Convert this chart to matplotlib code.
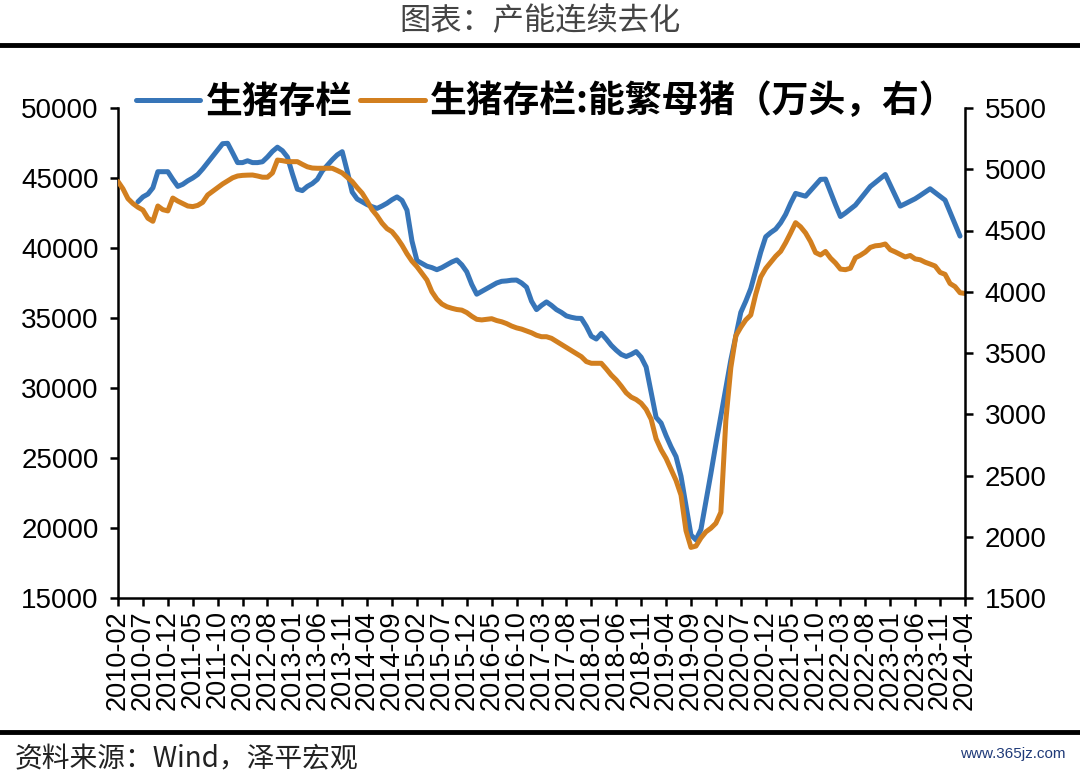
import numpy as np
import pandas as pd
import matplotlib
matplotlib.use('Agg')
import matplotlib.pyplot as plt
from matplotlib.lines import Line2D

nan = np.nan

# ---------------- data ----------------
months = pd.period_range('2010-02', '2024-04', freq='M').strftime('%Y-%m').tolist()

# 生猪存栏 (万头), left axis
hog_inventory = [
    nan, nan, nan, nan, 43300, 43650, 43850, 44300, 45450, 45450,   # 0-9
    45450, 44900, 44400, 44550, 44800, 45000, 45250, 45650, 46100, 46550,  # 10-19
    47000, 47450, 47480, 46800, 46100, 46100, 46230, 46100, 46100, 46160,  # 20-29
    46500, 46900, 47200, 46950, 46500, 45300, 44200, 44100, 44400, 44600,  # 30-39
    44900, 45500, 45900, 46300, 46650, 46880, 45500, 44000, 43500, 43300,  # 40-49
    43100, 42950, 42830, 43000, 43200, 43450, 43650, 43400, 42700, 40500,  # 50-59
    39100, 38900, 38700, 38600, 38450, 38600, 38800, 39000, 39150, 38800,  # 60-69
    38300, 37400, 36700, 36900, 37100, 37300, 37500, 37620, 37650, 37700,  # 70-79
    37710, 37500, 37200, 36200, 35600, 35900, 36150, 35900, 35600, 35400,  # 80-89
    35150, 35050, 34980, 34970, 34400, 33700, 33500, 33900, 33500, 33050,  # 90-99
    32700, 32400, 32250, 32400, 32600, 32200, 31500, 29700, 27900, 27500,  # 100-109
    26600, 25800, 25100, 23700, 21600, 19500, 19150, 19900, 21900, 23900,  # 110-119
    26000, 28000, 30000, 32000, 33700, 35400, 36200, 37100, 38400, 39700,  # 120-129
    40800, 41100, 41350, 41800, 42400, 43200, 43900, 43800, 43700, 44100,  # 130-139
    44500, 44900, 44920, 44000, 43100, 42250, 42500, 42780, 43060, 43500,  # 140-149
    43950, 44390, 44680, 44970, 45250, 44500, 43750, 42990, 43160, 43340,  # 150-159
    43520, 43750, 43990, 44230, 43960, 43690, 43420, 42560, 41700, 40850,  # 160-169
    nan,                                                                   # 170
]

# 生猪存栏:能繁母猪 (万头), right axis
sow_inventory = [
    4900, 4840, 4760, 4720, 4690, 4667, 4600, 4575, 4700, 4670,   # 0-9
    4660, 4765, 4740, 4720, 4700, 4695, 4705, 4730, 4790, 4820,   # 10-19
    4850, 4880, 4905, 4930, 4945, 4950, 4952, 4953, 4945, 4935,   # 20-29
    4935, 4970, 5075, 5070, 5062, 5062, 5062, 5040, 5020, 5010,   # 30-39
    5008, 5008, 5008, 5008, 4990, 4970, 4935, 4900, 4850, 4805,   # 40-49
    4740, 4670, 4620, 4560, 4515, 4490, 4440, 4380, 4310, 4250,   # 50-59
    4205, 4150, 4096, 4000, 3940, 3900, 3878, 3865, 3855, 3850,   # 60-69
    3830, 3800, 3775, 3770, 3775, 3780, 3765, 3755, 3740, 3720,   # 70-79
    3705, 3695, 3680, 3665, 3645, 3633, 3633, 3620, 3595, 3570,   # 80-89
    3545, 3520, 3495, 3470, 3430, 3416, 3416, 3416, 3370, 3320,   # 90-99
    3280, 3230, 3175, 3140, 3120, 3090, 3040, 2960, 2800, 2710,   # 100-109
    2640, 2550, 2460, 2340, 2050, 1913, 1924, 1990, 2040, 2070,   # 110-119
    2110, 2200, 2950, 3380, 3640, 3710, 3770, 3810, 3980, 4120,   # 120-129
    4190, 4240, 4290, 4330, 4400, 4480, 4564, 4530, 4480, 4410,   # 130-139
    4320, 4300, 4329, 4275, 4235, 4185, 4180, 4192, 4277, 4298,   # 140-149
    4324, 4362, 4375, 4379, 4390, 4343, 4325, 4305, 4284, 4296,   # 150-159
    4268, 4261, 4241, 4226, 4210, 4158, 4142, 4067, 4042, 3992,   # 160-169
    3986,                                                          # 170
]

left_ticks = [15000, 20000, 25000, 30000, 35000, 40000, 45000, 50000]
right_ticks = [1500, 2000, 2500, 3000, 3500, 4000, 4500, 5000, 5500]

title_text = '图表：产能连续去化'
legend_labels = ['生猪存栏', '生猪存栏:能繁母猪（万头，右）']
source_text = '资料来源：Wind，泽平宏观'
watermark_text = 'www.365jz.com'

# ---------------- style ----------------
CJK = ['Noto Sans CJK SC', 'DejaVu Sans']
plt.rcParams['font.family'] = ['Liberation Sans', 'Noto Sans CJK SC', 'DejaVu Sans']
BLUE = '#3775B8'
ORANGE = '#D27F1F'

fig = plt.figure(figsize=(10.8, 7.77), dpi=100)
ax = fig.add_axes([118/1080, 1-598/777, (965-118)/1080, (598-108)/777])
ax2 = ax.twinx()

x = np.arange(len(months))
l1, = ax.plot(x, hog_inventory, color=BLUE, lw=3.6, solid_capstyle='round', solid_joinstyle='round')
l2, = ax2.plot(x, sow_inventory, color=ORANGE, lw=3.6, solid_capstyle='round', solid_joinstyle='round')

ax.set_xlim(0, len(months) - 1)
ax.set_ylim(15000, 50000)
ax2.set_ylim(1500, 5500)
ax.set_yticks(left_ticks)
ax.set_yticklabels([str(v) for v in left_ticks])
ax2.set_yticks(right_ticks)
ax2.set_yticklabels([str(v) for v in right_ticks])

tick_idx = list(range(0, len(months), 5))
ax.set_xticks(tick_idx)
ax.set_xticklabels([months[i] for i in tick_idx], rotation=90)

for a in (ax, ax2):
    a.spines['top'].set_visible(False)
    for s in ('left', 'right', 'bottom'):
        a.spines[s].set_linewidth(1.8)
        a.spines[s].set_color('black')
ax.spines['right'].set_visible(False)
ax2.spines['left'].set_visible(False)
ax2.spines['bottom'].set_visible(False)

ax.tick_params(axis='y', direction='out', length=6, width=1.8, labelsize=20, pad=8, colors='black')
ax.tick_params(axis='x', direction='out', length=6, width=1.8, labelsize=19.5, pad=3, colors='black')
ax2.tick_params(axis='y', direction='out', length=6, width=1.8, labelsize=20, pad=8, colors='black')

# legend
leg = fig.legend([l1, l2], legend_labels, loc='center left', bbox_to_anchor=(136/1080, 1-102/777),
                 ncol=2, frameon=False, borderpad=0, borderaxespad=0, handlelength=1.75,
                 handletextpad=0.15, columnspacing=0.2,
                 prop={'family': CJK, 'weight': 'bold', 'size': 26.5})

# title
fig.text(0.5, 1-21/777, title_text, ha='center', va='center', fontsize=22.5,
         color='#444444', family=CJK)

# thick rules
fig.add_artist(Line2D([0, 1], [1-45/777, 1-45/777], color='black', lw=3.5, transform=fig.transFigure))
fig.add_artist(Line2D([0, 1], [1-732/777, 1-732/777], color='black', lw=3.5, transform=fig.transFigure))

# footer
fig.text(15/1080, 1-759/777, source_text, ha='left', va='center', fontsize=20,
         color='#222222', family=CJK, style='italic')
fig.text(1066/1080, 1-754/777, watermark_text, ha='right', va='center', fontsize=11,
         color='#1F3A78')

fig.savefig('out.png', dpi=100)
